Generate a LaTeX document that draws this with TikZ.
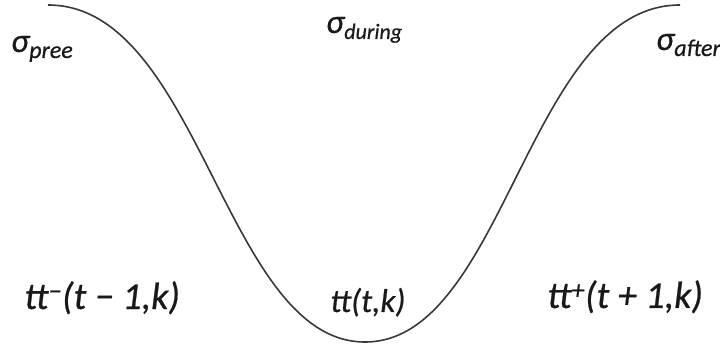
\documentclass[tikz,border=0pt]{standalone}
\usepackage{fontspec}
\setmainfont{Carlito}[ItalicFeatures={FakeBold=0.6}]
\tikzset{
  curveline/.style={line width=1.6pt, color=black!78},
  sig/.style={inner sep=0pt, anchor=base west, font=\fontsize{34}{36}\selectfont\itshape, text=black!90},
  ttlab/.style={inner sep=0pt, anchor=base west, font=\fontsize{38}{40}\selectfont\itshape, text=black!90},
}
\newcommand{\mysub}[2][24]{\raisebox{-6pt}{\fontsize{#1}{26}\selectfont #2}}
\begin{document}
\begin{tikzpicture}[x=1pt,y=-1pt]
\useasboundingbox (0,0) rectangle (720,347);
\coordinate (L) at (48,5);
\coordinate (B) at (365,342);
\coordinate (R) at (680,5);
\draw[curveline] (L) .. controls (200,5) and (225,342) .. (B) .. controls (505,342) and (528,5) .. (R);
\node[sig] (spree) at (11,52) {σ\mysub{pree}};
\node[sig] (sdur) at (326,33) {σ\mysub[22]{during}};
\node[sig] (saft) at (656,50) {σ\mysub{after}};
\node[ttlab] (ttm) at (24,309) {tt\textsuperscript{−}(t − 1,k)};
\node[ttlab, font=\fontsize{33}{35}\selectfont\itshape] (tt) at (330,312) {tt(t,k)};
\node[ttlab] (ttp) at (547,308) {tt\textsuperscript{+}(t + 1,k)};
\end{tikzpicture}
\end{document}
